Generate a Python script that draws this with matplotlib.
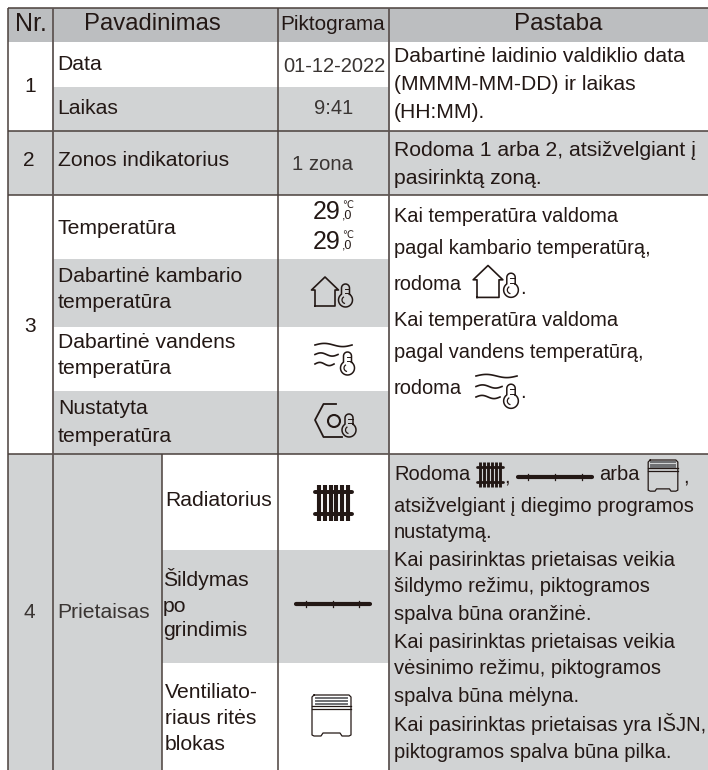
import matplotlib
matplotlib.use("Agg")
import matplotlib.pyplot as plt
from matplotlib.patches import Rectangle, Circle
import numpy as np

plt.rcParams['font.family'] = ['Liberation Sans', 'DejaVu Sans']

GRAY = '#d1d3d4'
HEAD = '#bcbec0'
LINE = '#4a403c'
INK = '#231815'
SOFT = '#3a3533'

header = ["Nr.", "Pavadinimas", "Piktograma", "Pastaba"]
numbers = ["1", "2", "3", "4"]
names_1 = ["Data", "Laikas"]
symbols_1 = ["01-12-2022", "9:41"]
note_1 = ["Dabartinė laidinio valdiklio data", "(MMMM-MM-DD) ir laikas", "(HH:MM)."]
name_2 = "Zonos indikatorius"
symbol_2 = "1 zona"
note_2 = ["Rodoma 1 arba 2, atsižvelgiant į", "pasirinktą zoną."]
names_3 = ["Temperatūra", ["Dabartinė kambario", "temperatūra"],
           ["Dabartinė vandens", "temperatūra"], ["Nustatyta", "temperatūra"]]
note_3 = ["Kai temperatūra valdoma", "pagal kambario temperatūrą,", "rodoma", "Kai temperatūra valdoma",
          "pagal vandens temperatūrą,", "rodoma"]
name_4 = "Prietaisas"
names_4 = [["Radiatorius"], ["Šildymas", "po", "grindimis"], ["Ventiliato-", "riaus ritės", "blokas"]]
note_4 = ["atsižvelgiant į diegimo programos", "nustatymą.", "Kai pasirinktas prietaisas veikia",
          "šildymo režimu, piktogramos", "spalva būna oranžinė.", "Kai pasirinktas prietaisas veikia",
          "vėsinimo režimu, piktogramos", "spalva būna mėlyna.", "Kai pasirinktas prietaisas yra IŠJN,",
          "piktogramos spalva būna pilka."]

W, H = 708, 770
fig = plt.figure(figsize=(W/100, H/100), dpi=100)
ax = fig.add_axes([0, 0, 1, 1])
ax.set_xlim(0, W); ax.set_ylim(H, 0); ax.axis('off')

XL, X1, X1b, X2, X3, XR = 7.5, 53, 161.5, 278, 389, 708
Y0, Yh, Y1m, Y1, Y2, Y3a, Y3b, Y3c, Y3, Y4a, Y4b, Yb = 8, 42, 87, 131, 195, 259, 327, 391, 454, 550, 663, 770

def fill(x0, y0, x1, y1, c):
    ax.add_patch(Rectangle((x0, y0), x1-x0, y1-y0, fc=c, ec='none', zorder=1))

fill(XL, Y0, XR, Yh, HEAD)
fill(X1, Y1m, X3, Y1, GRAY)
fill(XL, Y1, XR, Y2, GRAY)
fill(X1, Y3a, X3, Y3b, GRAY)
fill(X1, Y3c, X3, Y3, GRAY)
fill(XL, Y3, X1b, Yb, GRAY)
fill(X3, Y3, XR, Yb, GRAY)
fill(X1b, Y4a, X3, Y4b, GRAY)

def hl(y, x0=XL, x1=XR, lw=1.1):
    ax.plot([x0, x1], [y, y], color=LINE, lw=lw, solid_capstyle='butt', zorder=3)
def vl(x, y0=Y0, y1=Yb, lw=1.1, c=LINE):
    ax.plot([x, x], [y0, y1], color=c, lw=lw, solid_capstyle='butt', zorder=3)

for y in [Y0, Y1, Y2, Y3]:
    hl(y)
for x in [XL, X2]:
    vl(x)
for x in [X1, X3]:
    vl(x, lw=1.3, c='#5e5553')
vl(X1b, Y3, Yb)

def T(x, y, s, size=15.2, ha='left', color=INK):
    ax.text(x, y, s, fontsize=size, ha=ha, va='center', color=color, zorder=4)

NOTE3 = 14.4
NOTE4 = 14.5

# header
T(31, 24, header[0], 18, 'center')
T(152, 24, header[1], 17.2, 'center')
T(333, 24, header[2], 14.9, 'center')
T(558, 24, header[3], 17.4, 'center')

# numbers
T(30, 86, numbers[0], 15, 'center')
T(29, 160, numbers[1], 15, 'center')
T(30, 326, numbers[2], 15, 'center')
T(29, 613, numbers[3], 15, 'center', SOFT)

# names
T(57, 64, names_1[0]); T(57, 108, names_1[1])
T(58, 161, name_2)
T(58, 228, names_3[0])
for ys, lines in zip([[277, 303], [343, 369], [408, 436]], names_3[1:]):
    for y, s in zip(ys, lines):
        T(58, y, s)
T(57, 613, name_4, 15.2, 'left', SOFT)
for ys, lines, xs in zip([[500], [579, 606, 630], [693, 719, 745]], names_4, [165, 163, 165]):
    for y, s in zip(ys, lines):
        T(xs, y, s)

# symbols
T(334, 66, symbols_1[0], 14.5, 'center', SOFT)
T(334, 109, symbols_1[1], 14.5, 'center', SOFT)
T(322, 164, symbol_2, 14.6, 'center', SOFT)

def temp(x, y):
    T(x, y, "29", 18, 'center')
    ax.text(x+16, y-7, "℃", fontsize=7, ha='left', va='center', color=INK, zorder=4, family='DejaVu Sans')
    T(x+15, y+3, ",0", 9, 'left')
temp(326.5, 212); temp(326.5, 242)

# notes
for y, s in zip([57, 84, 113], note_1):
    T(394, y, s)
for y, s in zip([150, 179], note_2):
    T(394, y, s)
for y, s in zip([216, 248, 285, 321, 353, 389], note_3):
    T(394, y, s, NOTE3)
for y, s in zip([506, 533, 560, 587, 615, 642, 669, 697, 724, 752], note_4):
    T(394, y, s, NOTE4)
T(394, 475, "Rodoma", NOTE4)
T(504, 477, ",", NOTE4)
T(599, 475, "arba", NOTE4)
T(683, 477, ",", NOTE4)
T(520, 288, ".", NOTE4); T(520, 392, ".", NOTE4)

# icons
def thermo(x, y, s=1.0):
    """x, y = bulb centre."""
    r, hw, top = 7*s, 4*s, 12*s
    a0 = np.arcsin(hw/r)
    th = np.linspace(-np.pi/2 + a0, 3*np.pi/2 - a0, 50)
    bx, by = x + r*np.cos(th), y + r*np.sin(th)
    arc = np.linspace(0, np.pi, 14)
    ox = np.concatenate([bx, x - hw*np.cos(arc)])
    oy = np.concatenate([by, y - top - hw*np.sin(arc)])
    ox = np.append(ox, ox[0]); oy = np.append(oy, oy[0])
    ax.plot(ox, oy, color=INK, lw=1.1, zorder=4)
    ax.plot([x-1*s, x+3.5*s], [y-11*s, y-11*s], color=INK, lw=0.7, zorder=4)
    ax.plot([x-1*s, x+3.5*s], [y-7*s, y-7*s], color=INK, lw=0.7, zorder=4)
    th2 = np.linspace(np.pi*0.6, np.pi*1.3, 10)
    ax.plot(x + 3.5*s*np.cos(th2), y + 3.5*s*np.sin(th2), color=INK, lw=0.9, zorder=4)

def house(x, y, s=1.0):
    xs = np.array([-10, -10, -13.5, 0, 13.5, 10, 10, -10]) * s + x
    ys = np.array([14, -2, -2, -15, -2, -2, 14, 14]) * s + y
    ax.plot(xs, ys, color=INK, lw=1.2, zorder=4)

def waves(x, y, widths, gap):
    t = np.linspace(0, 1, 30)
    for i, w in enumerate(widths):
        ax.plot(x + t*w, y + i*gap - 1.6*np.sin(2*np.pi*t), color=INK, lw=1.2, zorder=4)

def setpt(x, y):
    xs = np.array([21, 8.5, 0, 8.5, 27]) + x
    ys = np.array([-16, -16, 0, 17, 17]) + y
    ax.plot(xs, ys, color=INK, lw=1.3, zorder=4)
    ax.add_patch(Circle((x+19, y+1), 6, fc='none', ec=INK, lw=1.5, zorder=4))

def radiator(cx, cy, w=37, h=36):
    n = 6
    for i in range(n):
        x = cx - w/2 + w*0.1 + i*(w*0.8)/(n-1)
        ax.plot([x, x], [cy-h/2, cy+h/2], color=INK, lw=w/12.5, solid_capstyle='butt', zorder=4)
    for dy in (-h*0.3, h*0.3):
        ax.plot([cx-w/2, cx+w/2], [cy+dy, cy+dy], color=INK, lw=w/13, solid_capstyle='round', zorder=4)

def floor(cx, cy, w=76):
    ax.plot([cx-w/2+1, cx+w/2-1], [cy, cy], color=INK, lw=3, solid_capstyle='round', zorder=4)
    for f in (-0.35, 0, 0.35):
        ax.plot([cx+f*w, cx+f*w], [cy-3, cy+3], color=INK, lw=0.9, zorder=4)

def fancoil(cx, top, s=1.0, w=39, h=41):
    x0, x1 = cx-w/2*s, cx+w/2*s
    b = top + h*s
    xs = [x0+2, x0, x0, x0+2, x0+9*s, x0+11*s, x1-11*s, x1-9*s, x1-2, x1, x1, x1-2, x0+2]
    ys = [top, top+2, b-1, b, b, b-3*s, b-3*s, b, b, b-1, top+2, top, top]
    ax.plot(xs, ys, color=INK, lw=0.9, zorder=4)
    ax.plot([x0, x1], [top+11*s, top+11*s], color=INK, lw=0.9, zorder=4)
    ax.plot([x0, x1], [top+14*s, top+14*s], color=INK, lw=0.9, zorder=4)
    for dy in (3, 6, 9):
        ax.plot([x0+4*s, x1-4*s], [top+dy*s, top+dy*s], color='#6d6e71', lw=1.4, zorder=4)

house(325, 292, 1.0); thermo(345.5, 300)
waves(315, 345, [37, 23, 19], 9.5); thermo(347.5, 368)
setpt(315, 420); thermo(349, 430)
house(488, 282, 1.1); thermo(511, 290, 1.05)
waves(476, 376, [41, 26, 24], 10.5); thermo(511, 401, 1.05)

radiator(333.5, 503)
floor(332.5, 604)
fancoil(331.5, 695)
radiator(490, 474.5, 26, 25)
floor(555, 477)
fancoil(663, 460, 0.76)

fig.savefig("out.png", dpi=100)
